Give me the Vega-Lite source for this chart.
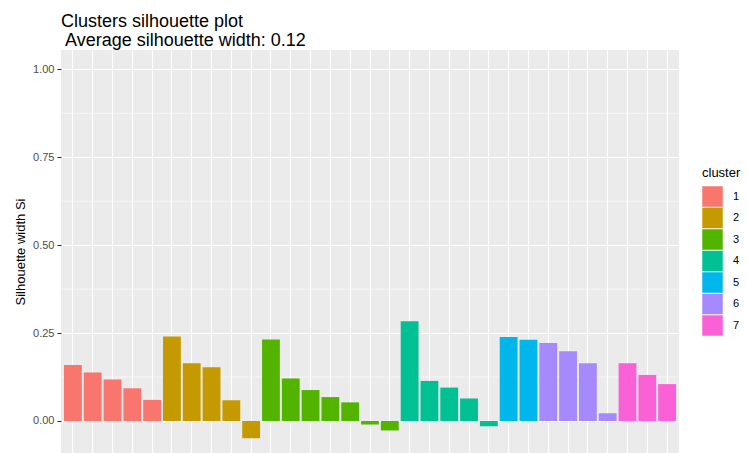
{
  "$schema": "https://vega.github.io/schema/vega-lite/v6.json",
  "autosize": {"type": "none"},
  "padding": {"left": 61, "top": 50, "right": 68, "bottom": 0},
  "width": 618,
  "height": 403,
  "background": "white",
  "view": {"fill": "#EBEBEB", "stroke": null},
  "title": {
    "text": ["Clusters silhouette plot", "\u200b Average silhouette width: 0.12"],
    "anchor": "start",
    "frame": "group",
    "font": "Liberation Sans",
    "fontSize": 18,
    "fontWeight": "normal",
    "color": "black",
    "lineHeight": 19,
    "offset": 0
  },
  "config": {
    "font": "Liberation Sans"
  },
  "layer": [
    {
      "data": {"values": [{"m": 0.125}, {"m": 0.375}, {"m": 0.625}, {"m": 0.875}]},
      "mark": {"type": "rule", "color": "white", "strokeWidth": 0.6},
      "encoding": {
        "y": {"field": "m", "type": "quantitative", "scale": {"domain": [-0.091, 1.055], "nice": false, "zero": false}}
      }
    },
    {
      "data": {"values": [
        {"id": "1", "cluster": "1", "sil": 0.159},
        {"id": "2", "cluster": "1", "sil": 0.138},
        {"id": "3", "cluster": "1", "sil": 0.118},
        {"id": "4", "cluster": "1", "sil": 0.093},
        {"id": "5", "cluster": "1", "sil": 0.060},
        {"id": "6", "cluster": "2", "sil": 0.240},
        {"id": "7", "cluster": "2", "sil": 0.164},
        {"id": "8", "cluster": "2", "sil": 0.153},
        {"id": "9", "cluster": "2", "sil": 0.059},
        {"id": "10", "cluster": "2", "sil": -0.049},
        {"id": "11", "cluster": "3", "sil": 0.232},
        {"id": "12", "cluster": "3", "sil": 0.121},
        {"id": "13", "cluster": "3", "sil": 0.088},
        {"id": "14", "cluster": "3", "sil": 0.068},
        {"id": "15", "cluster": "3", "sil": 0.053},
        {"id": "16", "cluster": "3", "sil": -0.010},
        {"id": "17", "cluster": "3", "sil": -0.027},
        {"id": "18", "cluster": "4", "sil": 0.284},
        {"id": "19", "cluster": "4", "sil": 0.114},
        {"id": "20", "cluster": "4", "sil": 0.095},
        {"id": "21", "cluster": "4", "sil": 0.064},
        {"id": "22", "cluster": "4", "sil": -0.015},
        {"id": "23", "cluster": "5", "sil": 0.239},
        {"id": "24", "cluster": "5", "sil": 0.231},
        {"id": "25", "cluster": "6", "sil": 0.222},
        {"id": "26", "cluster": "6", "sil": 0.198},
        {"id": "27", "cluster": "6", "sil": 0.164},
        {"id": "28", "cluster": "6", "sil": 0.022},
        {"id": "29", "cluster": "7", "sil": 0.164},
        {"id": "30", "cluster": "7", "sil": 0.131},
        {"id": "31", "cluster": "7", "sil": 0.105}
      ]},
      "mark": {"type": "bar"},
      "encoding": {
        "x": {
          "field": "id", "type": "nominal", "sort": null,
          "scale": {"paddingInner": 0.1, "paddingOuter": 0.15},
          "axis": {"title": null, "labels": false, "ticks": false, "domain": false, "grid": true, "gridColor": "white", "gridWidth": 1.1, "bandPosition": 0.5}
        },
        "y": {
          "field": "sil", "type": "quantitative",
          "scale": {"domain": [-0.091, 1.055], "nice": false, "zero": false},
          "axis": {
            "title": "Silhouette width Si",
            "titleFontSize": 13, "titleFontWeight": "normal", "titleColor": "black", "titlePadding": 5,
            "values": [0, 0.25, 0.5, 0.75, 1],
            "format": ".2f",
            "labelFontSize": 11, "labelColor": "#4D4D4D", "labelPadding": 3,
            "ticks": true, "tickSize": 4, "tickColor": "#333333", "tickWidth": 1,
            "domain": false,
            "grid": true, "gridColor": "white", "gridWidth": 1.1
          }
        },
        "color": {
          "field": "cluster", "type": "nominal",
          "scale": {"domain": ["1", "2", "3", "4", "5", "6", "7"], "range": ["#F8766D", "#C49A00", "#53B400", "#00C094", "#00B6EB", "#A58AFF", "#FB61D7"]},
          "legend": {
            "orient": "none", "legendX": 641, "legendY": 117,
            "title": "cluster", "titleFontSize": 13, "titleFontWeight": "normal", "titleColor": "black", "titlePadding": 6,
            "symbolType": "square", "symbolSize": 420, "symbolStrokeWidth": 0,
            "labelFontSize": 11, "labelColor": "black", "labelOffset": 10,
            "rowPadding": 0.5
          }
        }
      }
    },
    {
      "mark": {"type": "rule", "color": "#E03030", "strokeDash": [5, 3], "strokeWidth": 1.1, "opacity": 0.8},
      "encoding": {
        "y": {"datum": 0.12}
      }
    }
  ]
}
